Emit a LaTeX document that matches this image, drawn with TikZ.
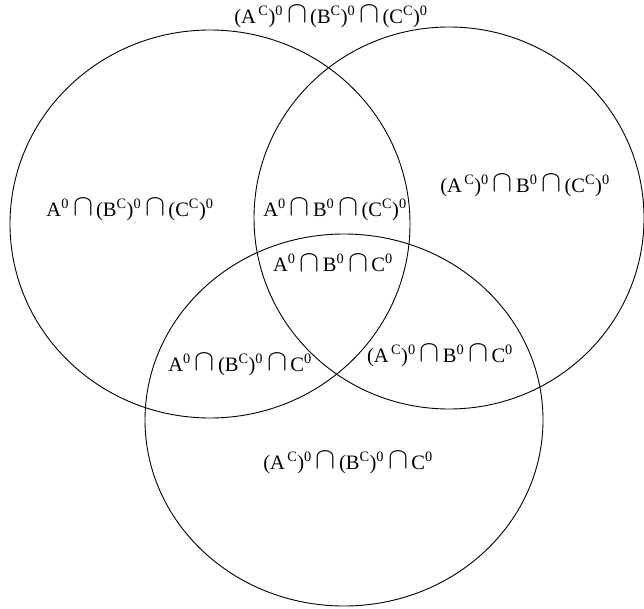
\documentclass[tikz,border=0pt]{standalone}
\usepackage{fontspec}
\usepackage{graphicx}
\setmainfont{Liberation Serif}
\begin{document}
\begin{tikzpicture}[x=1pt,y=-1pt,
  setline/.style={draw=black,line width=0.9pt},
  lbl/.style={font=\fontsize{20.5}{23}\selectfont,inner sep=0pt}]
\useasboundingbox (0,0) rectangle (644,609);
\newcommand{\sx}[1]{\textsuperscript{#1}}
\newcommand{\ca}{\hspace{0.2em}\raisebox{0.05ex}{\scalebox{1.45}{$\cap$}}\hspace{0.15em}}
\draw[setline] (210,224) ellipse [x radius=200,y radius=194];
\draw[setline] (449,218) ellipse [x radius=195,y radius=191];
\draw[setline] (344,420) ellipse [x radius=199,y radius=186];
\node[lbl] (t) at (331,17) {(A\sx{\,C})\sx{0}\ca(B\sx{C})\sx{0}\ca(C\sx{C})\sx{0}};
\node[lbl] (l) at (130,210) {A\sx{0}\ca(B\sx{C})\sx{0}\ca(C\sx{C})\sx{0}};
\node[lbl] (m) at (335,210) {A\sx{0}\ca B\sx{0}\ca(C\sx{C})\sx{0}};
\node[lbl] (r) at (525,186) {(A\sx{\,C})\sx{0}\ca B\sx{0}\ca(C\sx{C})\sx{0}};
\node[lbl] (c) at (333,263) {A\sx{0}\ca B\sx{0}\ca C\sx{0}};
\node[lbl] (ll) at (240,365) {A\sx{0}\ca(B\sx{C})\sx{0}\ca C\sx{0}};
\node[lbl] (lr) at (440,356) {(A\sx{\,C})\sx{0}\ca B\sx{0}\ca C\sx{0}};
\node[lbl] (b) at (348,463) {(A\sx{\,C})\sx{0}\ca(B\sx{C})\sx{0}\ca C\sx{0}};
\end{tikzpicture}
\end{document}
